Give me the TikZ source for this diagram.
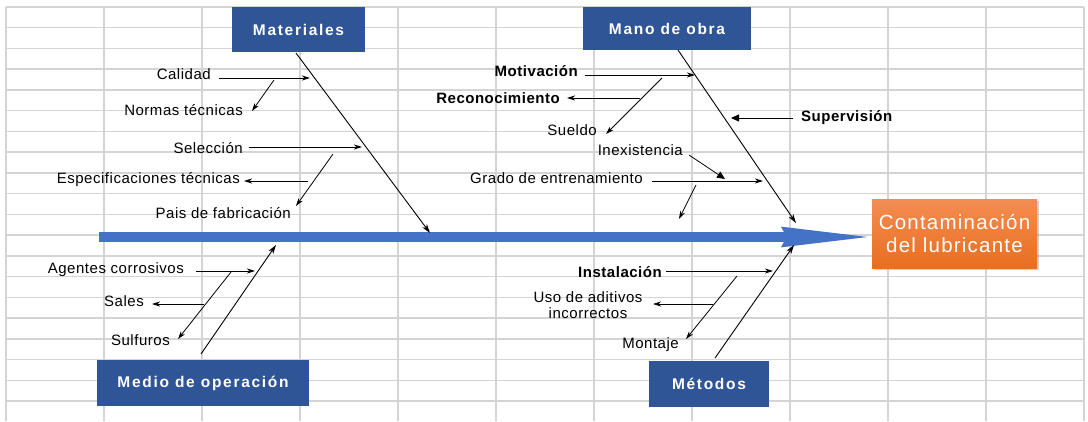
\documentclass[tikz,border=0pt]{standalone}
\usepackage{fontspec}
\setmainfont{Liberation Sans}
\usetikzlibrary{arrows.meta,shadows}
\newfontfamily\lblfam[LetterSpace=3.5]{Liberation Sans}
\newfontfamily\boxfam[LetterSpace=11]{Liberation Sans}
\newfontfamily\effam[LetterSpace=6]{Liberation Sans}
\definecolor{gridc}{RGB}{212,212,212}
\definecolor{catblue}{RGB}{47,85,151}
\definecolor{spineblue}{RGB}{68,114,196}
\definecolor{orangeT}{RGB}{243,141,82}
\definecolor{orangeB}{RGB}{232,110,32}
\tikzset{
  gridline/.style={draw=gridc, line width=1.5pt},
  catbox/.style={fill=catblue, text=white, inner sep=0pt,
    font=\boxfam\bfseries\fontsize{15.5}{18}\selectfont},
  lbl/.style={inner sep=0pt, font=\lblfam\fontsize{15}{16}\selectfont},
  blbl/.style={inner sep=0pt, font=\lblfam\bfseries\fontsize{15}{16}\selectfont},
  arr/.style={draw, line width=0.8pt, -{Stealth[length=8pt,width=5pt,inset=2.5pt]}},
  farr/.style={draw, line width=0.8pt, -{Triangle[length=8pt,width=7pt]}},
  bone/.style={draw, line width=0.9pt, -{Stealth[length=9pt,width=5.5pt,inset=2.5pt]}},
  spine/.style={draw=spineblue, line width=10pt, line cap=butt,
    -{Stealth[length=93pt,width=18pt,inset=3pt]}},
  spineshadow/.style={draw=black, draw opacity=0.18, fill opacity=0.18, line width=10pt, line cap=butt,
    -{Stealth[length=93pt,width=18pt,inset=3pt]}},
  effbox/.style={top color=orangeT, bottom color=orangeB, text=white, inner sep=0pt,
    align=center, font=\effam\fontsize{20.5}{22.5}\selectfont,
    drop shadow={shadow xshift=2pt, shadow yshift=-2pt, opacity=0.35}}
}
\begin{document}
\begin{tikzpicture}[x=1pt,y=-1pt]
\useasboundingbox (0,0) rectangle (1088,421);
\fill[white] (0,0) rectangle (1088,421);
% grid
\foreach \i in {0,...,11} \draw[gridline] (6+98*\i,7) -- (6+98*\i,421);
\foreach \j in {0,...,19} \draw[gridline] (6,7+20.737*\j) -- (1084,7+20.737*\j);

% category boxes
\node[catbox, minimum width=133pt, minimum height=45pt] (mat) at (298.5,29.5) {Materiales};
\node[catbox, minimum width=168pt, minimum height=43pt] (mano) at (667,28.5) {Mano de obra};
\node[catbox, minimum width=212pt, minimum height=46pt] (med) at (203,383) {Medio de operación};
\node[catbox, minimum width=120pt, minimum height=46pt] (met) at (709,384) {Métodos};

% effect
\node[effbox, minimum width=165pt, minimum height=69pt] (eff) at (954.5,233.5) {Contaminación\\del lubricante};

% spine
\coordinate (sp0) at (99,237);
\coordinate (sp1) at (877,237);
\draw[spineshadow, shift={(1.5,2.5)}] (sp0) -- (sp1);
\draw[spine] (sp0) -- (sp1);

% main bones
\coordinate (matS) at (296,53);
\coordinate (matT) at (430,233);
\coordinate (manoS) at (678,50);
\coordinate (manoT) at (796,223);
\coordinate (medS) at (201,354);
\coordinate (medT) at (276,245);
\coordinate (metS) at (715,358);
\coordinate (metT) at (794,245);
\draw[bone] (matS) -- (matT);
\draw[bone] (manoS) -- (manoT);
\draw[bone] (medS) -- (medT);
\draw[bone] (metS) -- (metT);

% ---- Materiales
\node[lbl, anchor=base east] (cal) at (211,79) {Calidad};
\node[lbl, anchor=base east] (nor) at (243,115) {Normas técnicas};
\node[lbl, anchor=base east] (sel) at (243,153) {Selección};
\node[lbl, anchor=base east] (esp) at (240,183) {Especificaciones técnicas};
\node[lbl, anchor=base east] (pai) at (291,218) {Pais de fabricación};
\coordinate (calA) at (219,78);   \coordinate (calB) at (310,78);
\coordinate (norA) at (274,80);   \coordinate (norB) at (252,111);
\coordinate (selA) at (249,147);  \coordinate (selB) at (362,147);
\coordinate (paiA) at (333,154);  \coordinate (paiB) at (296,206);
\coordinate (espA) at (308,181);  \coordinate (espB) at (244,181);
\draw[arr] (calA) -- (calB);
\draw[arr] (norA) -- (norB);
\draw[arr] (selA) -- (selB);
\draw[arr] (paiA) -- (paiB);
\draw[arr] (espA) -- (espB);

% ---- Mano de obra
\node[blbl, anchor=base east] (mot) at (578,76) {Motivación};
\node[blbl, anchor=base east] (rec) at (560,103) {Reconocimiento};
\node[lbl, anchor=base east] (sue) at (597,135) {Sueldo};
\node[blbl, anchor=base west] (sup) at (801,121) {Supervisión};
\node[lbl, anchor=base east] (ine) at (683,155) {Inexistencia};
\node[lbl, anchor=base east] (gra) at (643,183) {Grado de entrenamiento};
\coordinate (motA) at (585,75);  \coordinate (motB) at (695,75);
\coordinate (sueA) at (662,78);  \coordinate (sueB) at (606,134);
\coordinate (recA) at (640,98);  \coordinate (recB) at (567,98);
\coordinate (supA) at (793,118); \coordinate (supB) at (731,118);
\coordinate (ineA) at (689,155); \coordinate (ineB) at (725,179);
\coordinate (graA) at (652,181); \coordinate (graB) at (763,181);
\coordinate (extA) at (696,185); \coordinate (extB) at (679,219);
\draw[arr] (motA) -- (motB);
\draw[arr] (sueA) -- (sueB);
\draw[arr] (recA) -- (recB);
\draw[farr] (supA) -- (supB);
\draw[farr] (ineA) -- (ineB);
\draw[arr] (graA) -- (graB);
\draw[arr] (extA) -- (extB);

% ---- Medio de operacion
\node[lbl, anchor=base east] (age) at (184,273) {Agentes corrosivos};
\node[lbl, anchor=base east] (sal) at (144,306) {Sales};
\node[lbl, anchor=base east] (sul) at (170,345) {Sulfuros};
\coordinate (ageA) at (196,271); \coordinate (ageB) at (255,271);
\coordinate (sulA) at (231,272); \coordinate (sulB) at (178,339);
\coordinate (salA) at (204,304); \coordinate (salB) at (152,304);
\draw[arr] (ageA) -- (ageB);
\draw[arr] (sulA) -- (sulB);
\draw[arr] (salA) -- (salB);

% ---- Metodos
\node[blbl, anchor=base east] (ins) at (662,277) {Instalación};
\node[lbl, align=center] (uso) at (588,305) {Uso de aditivos\\incorrectos};
\node[lbl, anchor=base east] (mon) at (679,348) {Montaje};
\coordinate (insA) at (666,271); \coordinate (insB) at (773,271);
\coordinate (monA) at (737,276); \coordinate (monB) at (686,339);
\coordinate (usoA) at (713,304); \coordinate (usoB) at (653,304);
\draw[arr] (insA) -- (insB);
\draw[arr] (monA) -- (monB);
\draw[arr] (usoA) -- (usoB);
\end{tikzpicture}
\end{document}
